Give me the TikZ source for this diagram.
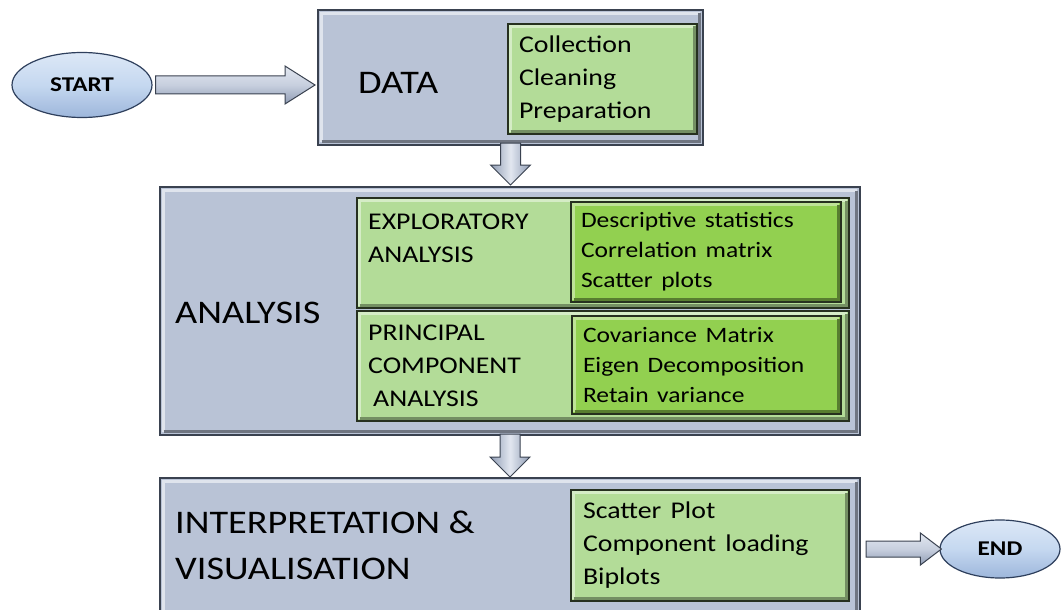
\documentclass[tikz,border=0pt]{standalone}
\usepackage{graphicx}
\usepackage{fontspec}
\setmainfont{Carlito}
\usetikzlibrary{calc,shapes.geometric}
\definecolor{boxblue}{HTML}{B9C3D6}
\definecolor{boxedge}{HTML}{3A4250}
\definecolor{lgreen}{HTML}{B3DC98}
\definecolor{bgreen}{HTML}{92D050}
\definecolor{gedge}{HTML}{26301F}
\definecolor{ellfill}{HTML}{C5D8F0}
\definecolor{elldark}{HTML}{9DB6DB}
\definecolor{elledge}{HTML}{2E3F5C}
\definecolor{arrlight}{HTML}{E2E7F0}
\definecolor{arrdark}{HTML}{8F9CB4}
\newcommand{\sx}[1]{\scalebox{1.16}[1]{#1}}
\tikzset{
  outerbox/.style={draw=boxedge, line width=1.2pt, fill=boxblue, inner sep=0pt, outer sep=0pt, anchor=north west},
  panel/.style={draw=gedge, line width=1.2pt, fill=lgreen, inner sep=0pt, outer sep=0pt, anchor=north west},
  listbox/.style={draw=gedge, line width=1.2pt, inner sep=0pt, outer sep=0pt, anchor=north west, align=left},
  biglbl/.style={font=\fontsize{33}{46}\selectfont, anchor=west, align=left, inner sep=0pt},
  titlelbl/.style={font=\fontsize{24}{33}\selectfont, anchor=west, align=left, inner sep=0pt},
  endpoint/.style={ellipse, draw=elledge, line width=1.2pt, top color=ellfill!60!white, bottom color=elldark, middle color=ellfill, font=\fontsize{21}{25}\selectfont\bfseries, inner sep=0pt},
  blockarrow/.style={draw=boxedge, line width=1pt, line join=miter},
}
\newcommand{\bevel}[4]{%
  \draw[#3, line width=2.2pt] ($(#1.south west)+(#2,-#2)$) |- ($(#1.north east)+(-#2,#2)$);
  \draw[#4, line width=2.2pt] ($(#1.south west)+(#2,-#2)$) -| ($(#1.north east)+(-#2,#2)$);
}
% horizontal block arrow: from, to, shaft half, head half, head length
\newcommand{\harrow}[5]{%
  \draw[blockarrow, top color=arrlight, bottom color=arrdark, middle color=boxblue!80!white]
    let \p1=(#1), \p2=(#2) in
    (\x1,\y1+#3) -- (\x2-#5,\y1+#3) -- (\x2-#5,\y1+#4) -- (\x2,\y1)
    -- (\x2-#5,\y1-#4) -- (\x2-#5,\y1-#3) -- (\x1,\y1-#3) -- cycle;
}
% vertical block arrow (downwards): from, to, shaft half, head half, head length
\newcommand{\varrow}[5]{%
  \draw[blockarrow, left color=arrdark, right color=arrdark, middle color=arrlight]
    let \p1=(#1), \p2=(#2) in
    (\x1-#3,\y1) -- (\x1-#3,\y2+#5) -- (\x1-#4,\y2+#5) -- (\x1,\y2)
    -- (\x1+#4,\y2+#5) -- (\x1+#3,\y2+#5) -- (\x1+#3,\y1) -- cycle;
}
\begin{document}
\begin{tikzpicture}[x=1pt,y=-1pt]
\useasboundingbox (0,0) rectangle (1061,610);

% ---------- DATA ----------
\node[outerbox, minimum width=385pt, minimum height=135pt] (data) at (318,10) {};
\bevel{data}{3.5}{white!55!boxblue}{boxblue!60!black}
\node[listbox, fill=lgreen, minimum width=189pt, minimum height=110pt, text width=167pt,
      font=\fontsize{24}{33}\selectfont, inner xsep=11pt] (datalist) at (508,24)
  {\sx{Collection}\\\sx{Cleaning}\\\sx{Preparation}};
\bevel{datalist}{2.5}{white!45!lgreen}{lgreen!65!black}
\node[biglbl] (datalbl) at (358,83) {\sx{DATA}};

% ---------- ANALYSIS ----------
\node[outerbox, minimum width=700pt, minimum height=248pt] (analysis) at (160,187) {};
\bevel{analysis}{3.5}{white!55!boxblue}{boxblue!60!black}
\node[biglbl] (analysislbl) at (175,313) {\sx{ANALYSIS}};

\node[panel, minimum width=492pt, minimum height=110pt] (explore) at (357,198) {};
\bevel{explore}{2.5}{white!45!lgreen}{lgreen!65!black}
\node[titlelbl] (explorelbl) at (368,238) {\sx{EXPLORATORY}\\\sx{ANALYSIS}};
\node[listbox, fill=bgreen, minimum width=270pt, minimum height=100pt, text width=250pt,
      font=\fontsize{22}{30}\selectfont, inner xsep=10pt] (explorelist) at (571,202)
  {\sx{Descriptive statistics}\\\sx{Correlation matrix}\\\sx{Scatter plots}};
\bevel{explorelist}{2.5}{white!40!bgreen}{bgreen!60!black}

\node[panel, minimum width=492pt, minimum height=110pt] (pca) at (357,311) {};
\bevel{pca}{2.5}{white!45!lgreen}{lgreen!65!black}
\node[titlelbl] (pcalbl) at (368,366) {\sx{PRINCIPAL}\\\sx{COMPONENT}\\\hspace*{5pt}\sx{ANALYSIS}};
\node[listbox, fill=bgreen, minimum width=269pt, minimum height=98pt, text width=247pt,
      font=\fontsize{22}{30}\selectfont, inner xsep=11pt] (pcalist) at (572,316)
  {\sx{Covariance Matrix}\\\sx{Eigen Decomposition}\\\sx{Retain variance}};
\bevel{pcalist}{2.5}{white!40!bgreen}{bgreen!60!black}

% ---------- INTERPRETATION ----------
\node[outerbox, minimum width=700pt, minimum height=145pt] (interp) at (160,478) {};
\bevel{interp}{3.5}{white!55!boxblue}{boxblue!60!black}
\node[biglbl] (interplbl) at (175,545) {\sx{INTERPRETATION \&}\\\sx{VISUALISATION}};
\node[listbox, fill=lgreen, minimum width=278pt, minimum height=111pt, text width=254pt,
      font=\fontsize{24}{33}\selectfont, inner xsep=12pt] (interplist) at (571,490)
  {\sx{Scatter Plot}\\\sx{Component loading}\\\sx{Biplots}};
\bevel{interplist}{2.5}{white!45!lgreen}{lgreen!65!black}

% ---------- START / END ----------
\node[endpoint, minimum width=140pt, minimum height=65pt] (start) at (82,85) {\scalebox{1.2}[1]{START}};
\node[endpoint, minimum width=120pt, minimum height=58pt] (end) at (1000,549) {\scalebox{1.2}[1]{END}};

% ---------- connectors ----------
\coordinate (a1s) at ($(start.east)+(3,0)$);
\coordinate (a1e) at ($(data.west |- start.east)+(-3,0)$);
\harrow{a1s}{a1e}{9pt}{19pt}{30pt}

\coordinate (a2s) at ($(data.south)+(0,-2)$);
\coordinate (a2e) at ($(analysis.north)+(0,-2)$);
\varrow{a2s}{a2e}{10pt}{20pt}{20pt}

\coordinate (a3s) at ($(analysis.south)+(0,-1)$);
\coordinate (a3e) at ($(interp.north)+(0,-1)$);
\varrow{a3s}{a3e}{10pt}{20pt}{20pt}

\coordinate (a4s) at ($(interp.east |- end.west)+(6,0)$);
\coordinate (a4e) at ($(end.west)+(2,0)$);
\harrow{a4s}{a4e}{8pt}{16pt}{21pt}
\end{tikzpicture}
\end{document}
